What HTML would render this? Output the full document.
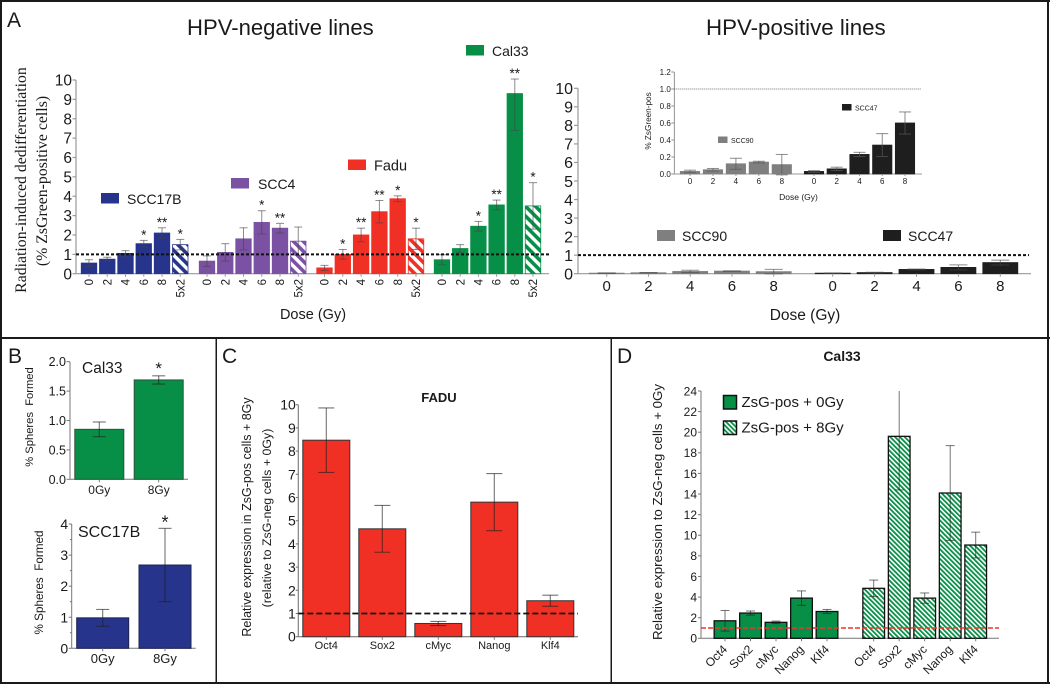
<!DOCTYPE html>
<html>
<head>
<meta charset="utf-8">
<title>Radiation-induced dedifferentiation figure</title>
<style>
html,body{margin:0;padding:0;background:#fff;}
svg{display:block;filter:blur(0.3px);}
text{font-family:"Liberation Sans",sans-serif;fill:#1a1a1a;}
.serif{font-family:"Liberation Serif",serif;}
</style>
</head>
<body>
<svg id="figure" xmlns="http://www.w3.org/2000/svg" width="1050" height="684" viewBox="0 0 1050 684">
<defs>
<pattern id="hatch-navy" width="7" height="7" patternUnits="userSpaceOnUse" patternTransform="rotate(-45)"><rect width="7" height="7" fill="#fff"/><rect width="3.6" height="7" fill="#27348b"/></pattern>
<pattern id="hatch-purple" width="7" height="7" patternUnits="userSpaceOnUse" patternTransform="rotate(-45)"><rect width="7" height="7" fill="#fff"/><rect width="3.6" height="7" fill="#7b52a3"/></pattern>
<pattern id="hatch-red" width="7" height="7" patternUnits="userSpaceOnUse" patternTransform="rotate(-45)"><rect width="7" height="7" fill="#fff"/><rect width="3.6" height="7" fill="#f03024"/></pattern>
<pattern id="hatch-green" width="7" height="7" patternUnits="userSpaceOnUse" patternTransform="rotate(-45)"><rect width="7" height="7" fill="#fff"/><rect width="3.6" height="7" fill="#078f47"/></pattern>
<pattern id="hatch-fine" width="3.4" height="3.4" patternUnits="userSpaceOnUse" patternTransform="rotate(-45)"><rect width="3.4" height="3.4" fill="#fff"/><rect width="1.8" height="3.4" fill="#078f47"/></pattern>
</defs>
<rect width="1050" height="684" fill="#fff"/>

<g id="panel-a">
<text x="7" y="27" font-size="21">A</text>
<text x="187" y="35" font-size="22.1">HPV-negative lines</text>
<text x="706" y="35" font-size="22.3">HPV-positive lines</text>
<text class="serif" transform="translate(26 180) rotate(-90)" text-anchor="middle" font-size="15.8">Radiation-induced dedifferentiation</text>
<text class="serif" transform="translate(47 181) rotate(-90)" text-anchor="middle" font-size="15.8">(% ZsGreen-positive cells)</text>
<text x="313" y="319" text-anchor="middle" font-size="14.5">Dose (Gy)</text>
<text x="805" y="320" text-anchor="middle" font-size="15.5">Dose (Gy)</text>
<text x="798.5" y="200" text-anchor="middle" font-size="8.5">Dose (Gy)</text>
<text transform="translate(651 121) rotate(-90)" text-anchor="middle" font-size="8.2">% ZsGreen-pos</text>
<g><rect x="101" y="193" width="18" height="10.5" fill="#27348b"/><text x="127" y="204" font-size="14">SCC17B</text></g>
<g><rect x="231" y="178" width="18" height="10.5" fill="#7b52a3"/><text x="258" y="189" font-size="14">SCC4</text></g>
<g><rect x="348" y="159.500" width="18" height="10.5" fill="#f03024"/><text x="374" y="170.500" font-size="14.500">Fadu</text></g>
<g><rect x="466" y="45" width="18" height="10.500" fill="#078f47"/><text x="492" y="56" font-size="14">Cal33</text></g>
<g><rect x="657" y="230" width="18" height="11" fill="#7f7f7f"/><text x="682" y="241" font-size="14">SCC90</text></g>
<g><rect x="883" y="230" width="18" height="11" fill="#1e1e1e"/><text x="908" y="241" font-size="14">SCC47</text></g>
<g><rect x="718" y="136.500" width="9.500" height="6.500" fill="#7f7f7f"/><text x="731" y="143" font-size="7">SCC90</text></g>
<g><rect x="842" y="104" width="9.500" height="6.500" fill="#1e1e1e"/><text x="855" y="110.500" font-size="7">SCC47</text></g>
</g>

<g id="panel-b">
<text x="8" y="363" font-size="21">B</text>
<text x="82" y="373" font-size="15.500">Cal33</text>
<text xml:space="preserve" transform="translate(33 417) rotate(-90)" text-anchor="middle" font-size="11.200">% Spheres  Formed</text>
<text x="78" y="537" font-size="16">SCC17B</text>
<text xml:space="preserve" transform="translate(43 582.500) rotate(-90)" text-anchor="middle" font-size="11.700">% Spheres  Formed</text>
</g>

<g id="panel-c">
<text x="222" y="363" font-size="21">C</text>
<text x="439" y="402" text-anchor="middle" font-size="13" font-weight="bold">FADU</text>
<text transform="translate(251 517) rotate(-90)" text-anchor="middle" font-size="12.500">Relative expression in ZsG-pos cells + 8Gy</text>
<text transform="translate(271 518) rotate(-90)" text-anchor="middle" font-size="12.400">(relative to ZsG-neg cells + 0Gy)</text>
</g>

<g id="panel-d">
<text x="617" y="363" font-size="21">D</text>
<text x="842" y="361" text-anchor="middle" font-size="14" font-weight="bold">Cal33</text>
<text transform="translate(662 512) rotate(-90)" text-anchor="middle" font-size="13.300">Relative expression to ZsG-neg cells + 0Gy</text>
<g><rect x="723.500" y="395.500" width="13" height="13.500" fill="#078f47" stroke="#111" stroke-width="1.500"/><text x="741.500" y="407" font-size="15">ZsG-pos + 0Gy</text></g>
<g><rect x="723.500" y="421" width="13" height="13.500" fill="url(#hatch-fine)" stroke="#111" stroke-width="1.500"/><text x="741.500" y="432.500" font-size="15">ZsG-pos + 8Gy</text></g>
</g>

<g id="marks"></g>

<g fill="#1a1a1a">
<rect x="0" y="0" width="1050" height="2"/>
<rect x="0" y="0" width="2" height="684"/>
<rect x="1047" y="0" width="2" height="684"/>
<rect x="0" y="682" width="1050" height="2"/>
<rect x="0" y="337" width="1050" height="2"/>
<rect x="215.500" y="338" width="1.500" height="346"/>
<rect x="610.500" y="338" width="1.500" height="346"/>
</g>
</svg>

<script>
// ---- chart data ----
const doseLabels = ['0', '2', '4', '6', '8', '5x2'];
const hpvDoseLabels = ['0', '2', '4', '6', '8'];
const scc17bValues = [0.55, 0.75, 1.05, 1.55, 2.1, 1.5];
const scc17bErrors = [0.17, 0.1, 0.14, 0.17, 0.27, 0.27];
const scc17bStars = ['', '', '', '*', '**', '*'];
const scc4Values = [0.65, 1.1, 1.8, 2.65, 2.35, 1.68];
const scc4Errors = [0.27, 0.45, 0.57, 0.6, 0.25, 0.73];
const scc4Stars = ['', '', '', '*', '**', ''];
const faduValues = [0.3, 1.0, 2.0, 3.2, 3.87, 1.8];
const faduErrors = [0.13, 0.25, 0.35, 0.58, 0.15, 0.55];
const faduStars = ['', '*', '**', '**', '*', '*'];
const cal33Values = [0.72, 1.3, 2.45, 3.55, 9.3, 3.5];
const cal33Errors = [0.26, 0.2, 0.25, 0.25, 0.75, 1.2];
const cal33LowerErrors = [0.26, 0.2, 0.25, 0.25, 1.9, 1.2];
const cal33Stars = ['', '', '*', '**', '**', '*'];
const scc90Values = [0.03, 0.05, 0.12, 0.14, 0.11];
const scc90Errors = [0.015, 0.015, 0.065, 0.01, 0.12];
const scc47Values = [0.03, 0.06, 0.23, 0.34, 0.6];
const scc47Errors = [0.01, 0.02, 0.025, 0.135, 0.13];
const mainTicksA = [0, 1, 2, 3, 4, 5, 6, 7, 8, 9, 10];
const insetTicks = ['0.0', '0.2', '0.4', '0.6', '0.8', '1.0', '1.2'];
const sphereLabels = ['0Gy', '8Gy'];
const spheresCal33Values = [0.85, 1.69];
const spheresCal33Errors = [0.125, 0.07];
const spheresCal33Ticks = ['0.0', '0.5', '1.0', '1.5', '2.0'];
const spheresScc17bValues = [0.98, 2.68];
const spheresScc17bErrors = [0.27, 1.18];
const spheresScc17bTicks = ['0', '1', '2', '3', '4'];
const geneLabels = ['Oct4', 'Sox2', 'cMyc', 'Nanog', 'Klf4'];
const faduGeneValues = [8.47, 4.65, 0.57, 5.8, 1.55];
const faduGeneErrors = [1.39, 1.01, 0.09, 1.23, 0.24];
const faduGeneTicks = [0, 1, 2, 3, 4, 5, 6, 7, 8, 9, 10];
const cal33Gene0GyValues = [1.7, 2.45, 1.55, 3.9, 2.6];
const cal33Gene0GyErrors = [1.0, 0.2, 0.12, 0.7, 0.2];
const cal33Gene8GyValues = [4.85, 19.6, 3.9, 14.1, 9.05];
const cal33Gene8GyErrors = [0.8, 5.2, 0.5, 4.6, 1.25];
const cal33GeneTicks = [0, 2, 4, 6, 8, 10, 12, 14, 16, 18, 20, 22, 24];
const referenceLevel = [1];

// ---- drawing helpers ----
const SVG_NS = 'http://www.w3.org/2000/svg';
const root = document.getElementById('marks');
function make(tag, attrs, parent) {
  const node = document.createElementNS(SVG_NS, tag);
  for (const key in attrs) node.setAttribute(key, attrs[key]);
  (parent || root).appendChild(node);
  return node;
}
function linearScale(d0, d1, r0, r1) {
  return v => r0 + (v - d0) * (r1 - r0) / (d1 - d0);
}
function bandScale(start, step) {
  return i => start + i * step;
}
function drawYAxis(name, ticks, y, o) {
  const g = make('g', {});
  
  
  const axisLine = make('line', {x1: o.x, x2: o.x, y1: y(Number(ticks[0])), y2: y(Number(ticks[ticks.length - 1])), stroke: o.color, 'stroke-width': o.width}, g);
  
  
  ticks.forEach(t => {
    const tick = make('line', {x1: o.x - o.tick, x2: o.x, y1: y(Number(t)), y2: y(Number(t)), stroke: o.color, 'stroke-width': o.width}, g);
    
    
    const label = make('text', {x: o.x - o.tick - o.pad, y: y(Number(t)) + o.font * 0.36, 'text-anchor': 'end', 'font-size': o.font}, g);
    label.textContent = t;
    
    
  });
  (o.minor || []).forEach(t => {
    const minor = make('line', {x1: o.x - o.tick * 0.6, x2: o.x, y1: y(t), y2: y(t), stroke: o.color, 'stroke-width': o.width}, g);
    
    
  });
}
function drawBaseline(name, y0, x0, x1, o) {
  const base = make('line', {x1: x0, x2: x1, y1: y0, y2: y0, stroke: o.color, 'stroke-width': o.width});
  
  
}
function drawBars(name, values, errors, x, y, o) {
  const g = make('g', {});
  
  
  values.forEach((v, i) => {
    const cx = x(i);
    const hatched = o.hatchIndex === i || o.hatchAll;
    const fill = hatched ? o.hatch : o.fill;
    const bar = make('rect', {x: cx - o.w / 2, y: y(v), width: o.w, height: y(0) - y(v), fill: fill, stroke: o.stroke || o.fill, 'stroke-width': o.strokeWidth || 0.8}, g);
    
    
    const top = y(Math.min(v + errors[i], o.maxValue === undefined ? Infinity : o.maxValue));
    const clipped = o.maxValue !== undefined && v + errors[i] >= o.maxValue;
    const low = y(v - (o.lowerErrors ? o.lowerErrors[i] : errors[i]));
    const stem = make('line', {x1: cx, x2: cx, y1: top, y2: low, stroke: o.err, 'stroke-width': o.errWidth}, g);
    
    
    if (!clipped) {
      const capTop = make('line', {x1: cx - o.cap, x2: cx + o.cap, y1: top, y2: top, stroke: o.err, 'stroke-width': o.errWidth}, g);
      
      
    }
    const capLow = make('line', {x1: cx - o.cap, x2: cx + o.cap, y1: low, y2: low, stroke: o.err, 'stroke-width': o.errWidth}, g);
    
    
    if (o.stars && o.stars[i]) {
      const star = make('text', {x: cx, y: top + (o.starOffset || 0), 'text-anchor': 'middle', 'font-size': o.starSize || 13}, g);
      star.textContent = o.stars[i];
      
      
    }
    const tick = make('line', {x1: cx, x2: cx, y1: y(0), y2: y(0) + (o.tick === undefined ? 3 : o.tick), stroke: o.axisColor, 'stroke-width': 1}, g);
    
    
    const lab = o.labels[i];
    let attrs;
    if (o.labelMode === 'vertical') {
      attrs = {transform: 'translate(' + (cx + o.font * 0.36) + ' ' + o.labelY + ') rotate(-90)', 'text-anchor': 'end', 'font-size': o.font};
    } else if (o.labelMode === 'slant') {
      attrs = {transform: 'translate(' + (cx + 3) + ' ' + o.labelY + ') rotate(-45)', 'text-anchor': 'end', 'font-size': o.font};
    } else {
      attrs = {x: cx, y: o.labelY, 'text-anchor': 'middle', 'font-size': o.font};
    }
    const label = make('text', attrs, g);
    label.textContent = lab;
    
    
  });
}
function drawReference(name, y, x0, x1, o) {
  referenceLevel.forEach(level => {
    const line = make('line', {x1: x0, x2: x1, y1: y(level), y2: y(level), stroke: o.color, 'stroke-width': o.width, 'stroke-dasharray': o.dash});
    
    
  });
}

// ---- panel A, HPV-negative ----
const yNeg = linearScale(0, 10, 273.7, 80);
const axisGrey = '#9a9a9a';
const errGrey = 'rgba(70,70,70,0.62)';
const negStyle = {w: 15.5, cap: 4, err: errGrey, errWidth: 1, axisColor: axisGrey, labels: doseLabels, labelMode: 'vertical', labelY: 279, font: 11.5, hatchIndex: 5, starSize: 13.5, starOffset: -1};
drawYAxis('hpv-negative', mainTicksA, yNeg, {x: 76, tick: 3.5, pad: 0.5, font: 15.5, color: axisGrey, width: 1.2});
drawBaseline('hpv-negative', yNeg(0), 76, 549, {color: axisGrey, width: 1.2});
drawBars('scc17b', scc17bValues, scc17bErrors, bandScale(89, 18.25), yNeg, Object.assign({}, negStyle, {fill: '#27348b', hatch: 'url(#hatch-navy)', stars: scc17bStars}));
drawBars('scc4', scc4Values, scc4Errors, bandScale(207, 18.25), yNeg, Object.assign({}, negStyle, {fill: '#7b52a3', hatch: 'url(#hatch-purple)', stars: scc4Stars}));
drawBars('fadu', faduValues, faduErrors, bandScale(324.5, 18.3), yNeg, Object.assign({}, negStyle, {fill: '#f03024', hatch: 'url(#hatch-red)', stars: faduStars}));
drawBars('cal33', cal33Values, cal33Errors, bandScale(442, 18.2), yNeg, Object.assign({}, negStyle, {fill: '#078f47', hatch: 'url(#hatch-green)', stars: cal33Stars, lowerErrors: cal33LowerErrors}));
drawReference('hpv-negative', yNeg, 76, 549, {color: '#111', width: 2, dash: '3 2'});

// ---- panel A, HPV-positive ----
const yPos = linearScale(0, 10, 273.7, 88.3);
const posStyle = {w: 35, cap: 9, err: errGrey, errWidth: 1, axisColor: axisGrey, labels: hpvDoseLabels, labelY: 291, font: 15};
drawYAxis('hpv-positive', mainTicksA, yPos, {x: 578, tick: 4, pad: 1, font: 16, color: axisGrey, width: 1.2});
drawBaseline('hpv-positive', yPos(0), 578, 1031, {color: axisGrey, width: 1.2});
drawBars('scc90', scc90Values, scc90Errors, bandScale(606.7, 41.75), yPos, Object.assign({}, posStyle, {fill: '#7f7f7f'}));
drawBars('scc47', scc47Values, scc47Errors, bandScale(832.7, 41.9), yPos, Object.assign({}, posStyle, {fill: '#1e1e1e'}));
drawReference('hpv-positive', yPos, 578, 1029, {color: '#111', width: 2, dash: '3 2'});

// ---- panel A, inset ----
const yInset = linearScale(0, 1.2, 174, 72);
const insetStyle = {w: 19.3, cap: 6, err: 'rgba(90,90,90,0.7)', errWidth: 1, axisColor: axisGrey, labels: hpvDoseLabels, labelY: 184, font: 8, tick: 2};
drawYAxis('inset', insetTicks, yInset, {x: 674.3, tick: 3, pad: 0.5, font: 8, color: '#777', width: 0.8});
drawBaseline('inset', yInset(0), 674.3, 922, {color: axisGrey, width: 1});
drawBars('inset-scc90', scc90Values, scc90Errors, bandScale(690, 22.95), yInset, Object.assign({}, insetStyle, {fill: '#7f7f7f'}));
drawBars('inset-scc47', scc47Values, scc47Errors, bandScale(814, 22.75), yInset, Object.assign({}, insetStyle, {fill: '#1e1e1e'}));
drawReference('inset', yInset, 674.3, 921, {color: '#444', width: 0.8, dash: '1 1'});

// ---- panel B ----
const darkErr = 'rgba(30,30,30,0.62)';
const yCal33Spheres = linearScale(0, 2, 479.3, 361.7);
drawYAxis('spheres-cal33', spheresCal33Ticks, yCal33Spheres, {x: 70, tick: 3.5, pad: 0.5, font: 12.5, color: '#777', width: 1});
drawBaseline('spheres-cal33', yCal33Spheres(0), 70, 188, {color: '#777', width: 1});
drawBars('spheres-cal33', spheresCal33Values, spheresCal33Errors, bandScale(99.3, 59.4), yCal33Spheres, {w: 49, cap: 6.5, err: darkErr, errWidth: 1.1, axisColor: '#777', fill: '#078f47', stroke: '#2f4f3c', strokeWidth: 1, labels: sphereLabels, labelY: 494, font: 12, stars: ['', '*'], starSize: 17, starOffset: -2});
const yScc17bSpheres = linearScale(0, 4, 648.3, 524);
drawYAxis('spheres-scc17b', spheresScc17bTicks, yScc17bSpheres, {x: 71.7, tick: 3, pad: 0.5, font: 14, color: '#777', width: 1, minor: [0.5, 1.5, 2.5, 3.5]});
drawBaseline('spheres-scc17b', yScc17bSpheres(0), 71.7, 195.7, {color: '#777', width: 1});
drawBars('spheres-scc17b', spheresScc17bValues, spheresScc17bErrors, bandScale(102.7, 62.3), yScc17bSpheres, {w: 52, cap: 6.5, err: darkErr, errWidth: 1.1, axisColor: '#777', fill: '#27348b', stroke: '#1c2350', strokeWidth: 1, labels: sphereLabels, labelY: 663, font: 13, stars: ['', '*'], starSize: 18, starOffset: 0});

// ---- panel C ----
const yFaduGene = linearScale(0, 10, 636.7, 404.7);
drawYAxis('fadu-genes', faduGeneTicks, yFaduGene, {x: 298.3, tick: 2.5, pad: 0, font: 14, color: '#777', width: 1.1});
drawBaseline('fadu-genes', yFaduGene(0), 298.3, 578, {color: '#777', width: 1.1});
drawBars('fadu-genes', faduGeneValues, faduGeneErrors, bandScale(326.3, 56), yFaduGene, {w: 47, cap: 8, err: darkErr, errWidth: 1.1, axisColor: '#777', fill: '#f03024', stroke: '#333', strokeWidth: 1, labels: geneLabels, labelY: 649, font: 11});
drawReference('fadu-genes', yFaduGene, 298.3, 578, {color: '#111', width: 1.8, dash: '6 3'});

// ---- panel D ----
const yCal33Gene = linearScale(0, 24, 638.3, 391);
drawYAxis('cal33-genes', cal33GeneTicks, yCal33Gene, {x: 701, tick: 3, pad: 1, font: 12, color: '#777', width: 1});
drawBaseline('cal33-genes', yCal33Gene(0), 701, 999, {color: '#777', width: 1});
const geneStyle = {w: 21.7, cap: 4.5, err: darkErr, errWidth: 1, axisColor: '#777', stroke: '#111', strokeWidth: 1.3, labels: geneLabels, labelMode: 'slant', labelY: 650, font: 12, maxValue: 24};
drawBars('cal33-0gy', cal33Gene0GyValues, cal33Gene0GyErrors, bandScale(725, 25.5), yCal33Gene, Object.assign({}, geneStyle, {fill: '#078f47'}));
drawBars('cal33-8gy', cal33Gene8GyValues, cal33Gene8GyErrors, bandScale(873.7, 25.5), yCal33Gene, Object.assign({}, geneStyle, {fill: '#078f47', hatch: 'url(#hatch-fine)', hatchAll: true}));
drawReference('cal33-genes', yCal33Gene, 701, 999, {color: '#f2332b', width: 1.6, dash: '5 2'});
</script>
</body>
</html>
